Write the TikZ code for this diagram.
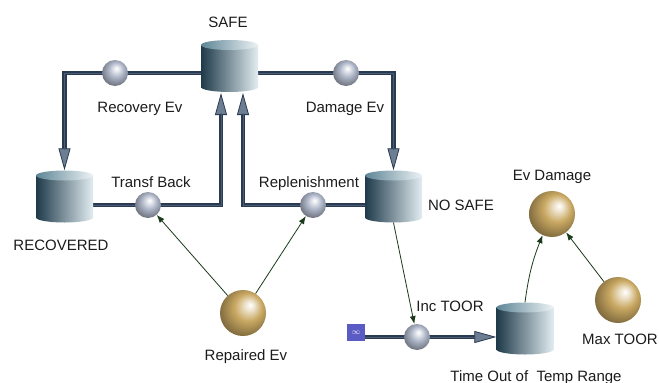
\documentclass[tikz,border=0pt]{standalone}
\usepackage{fontspec}
\setmainfont{Liberation Sans}
\usetikzlibrary{arrows.meta,backgrounds}
\definecolor{tdark}{HTML}{1F3A4A}
\definecolor{tmid}{HTML}{6F95A5}
\definecolor{tlight}{HTML}{E2EDF1}
\definecolor{cdark}{HTML}{5E8596}
\definecolor{clight}{HTML}{EDF3F5}
\definecolor{pipecol}{HTML}{2A3A50}
\definecolor{pipelight}{HTML}{4B5D74}
\definecolor{pipetip}{HTML}{6E7E92}
\definecolor{linkcol}{HTML}{1A3A1A}
\definecolor{graysph}{HTML}{AFB7C9}
\definecolor{goldsph}{HTML}{C9A862}
\definecolor{srccol}{HTML}{5B5BC6}
\definecolor{txt}{HTML}{1C1C1C}
\pgfdeclareradialshading{graysphere}{\pgfqpoint{3bp}{9bp}}{%
  color(0bp)=(white); color(4bp)=(white!75!graysph); color(14bp)=(graysph);
  color(25bp)=(graysph!72!black); color(34bp)=(graysph!50!black); color(50bp)=(graysph!50!black)}
\pgfdeclareradialshading{goldsphere}{\pgfqpoint{8bp}{9bp}}{%
  color(0bp)=(white); color(5bp)=(white!70!goldsph); color(15bp)=(goldsph);
  color(26bp)=(goldsph!72!black); color(36bp)=(goldsph!50!black); color(50bp)=(goldsph!50!black)}
\newcommand{\mytank}[2]{%
  \shade[left color=tdark,middle color=tmid,right color=tlight] ({#1-28.5},{#2-21}) rectangle ({#1+28.5},{#2+21});
  \shade[left color=tdark,middle color=tmid,right color=tlight] (#1,{#2+21}) ellipse (28.5 and 5);
  \shade[left color=cdark,right color=clight] (#1,{#2-21}) ellipse (28.5 and 5);
}
\begin{document}
\begin{tikzpicture}[x=1pt,y=-1pt,
  tankbox/.style={rectangle,minimum width=57pt,minimum height=52pt,inner sep=0pt},
  gball/.style={circle,minimum size=26pt,inner sep=0pt,shading=graysphere},
  oball/.style={circle,minimum size=46pt,inner sep=0pt,shading=goldsphere},
  pipe/.style={draw=pipecol,line width=4.5pt,line join=miter,
    postaction={draw=pipelight,line width=1pt,-,shorten >=20pt}},
  pipearrow/.style={pipe,-{Triangle[width=12pt,length=22pt,fill=pipetip,line width=0.8pt]}},
  link/.style={draw=linkcol,line width=0.8pt,-{Latex[length=8pt,width=6pt]}},
  lbl/.style={anchor=base,inner sep=0pt,text=txt,font=\fontsize{15}{18}\selectfont}]
\useasboundingbox (0,0) rectangle (659,383);

% tanks
\mytank{229.5}{66}
\mytank{64.5}{196.5}
\mytank{393.5}{196.5}
\mytank{525}{328.5}
\node[tankbox] (safe) at (229.5,66) {};
\node[tankbox] (recovered) at (64.5,196.5) {};
\node[tankbox] (nosafe) at (393.5,196.5) {};
\node[tankbox] (tout) at (525,328.5) {};

% spheres
\node[gball] (recev) at (115,73) {};
\node[gball] (dmgev) at (346,73) {};
\node[gball] (transf) at (148,205) {};
\node[gball] (repl) at (313,205) {};
\node[gball] (inc) at (417,337) {};
\node[oball] (rep) at (243,313) {};
\node[oball] (evd) at (552,214) {};
\node[oball] (mtoor) at (618,300) {};

% source
\node[rectangle,fill=srccol,minimum width=18pt,minimum height=17pt,inner sep=0pt,text=white,font=\fontsize{8}{8}\selectfont] (src) at (356,332.5) {$\infty$};

\coordinate (tbup) at (221,93);
\coordinate (rpup) at (243,93);

% pipes
\begin{scope}[on background layer]
\fill[white] (0,0) rectangle (659,383);
\draw[pipearrow] (safe.west |- recev) -- (recev -| recovered) -- (recovered.north);
\draw[pipearrow] (safe.east |- dmgev) -- (dmgev -| nosafe) -- (nosafe.north);
\draw[pipearrow] (recovered.east |- transf) -- (transf -| tbup) -- (tbup);
\draw[pipearrow] (nosafe.west |- repl) -- (repl -| rpup) -- (rpup);
\draw[pipearrow] (src.east |- inc) -- (inc -| tout.west);
\end{scope}

% links
\draw[link] (rep) -- (transf);
\draw[link] (rep) -- (repl);
\draw[link] (nosafe.south) -- (inc);
\draw[link] (tout.north) to[bend left=7] (evd);
\draw[link] (mtoor) -- (evd);

% labels
\node[lbl] (lsafe) at (228,27) {SAFE};
\node[lbl] (lrecev) at (140,112) {Recovery Ev};
\node[lbl] (ldmgev) at (345,112) {Damage Ev};
\node[lbl] (ltransf) at (151,187) {Transf Back};
\node[lbl] (lrepl) at (309,187) {Replenishment};
\node[lbl] (lnosafe) at (461,210) {NO SAFE};
\node[lbl] (lrecovered) at (61,250) {RECOVERED};
\node[lbl] (lrep) at (246,360) {Repaired Ev};
\node[lbl] (levd) at (552,180) {Ev Damage};
\node[lbl] (linc) at (450,311) {Inc TOOR};
\node[lbl] (lmtoor) at (620,344) {Max TOOR};
\node[lbl] (ltout) at (536,381) {Time Out of~ Temp Range};
\end{tikzpicture}
\end{document}
